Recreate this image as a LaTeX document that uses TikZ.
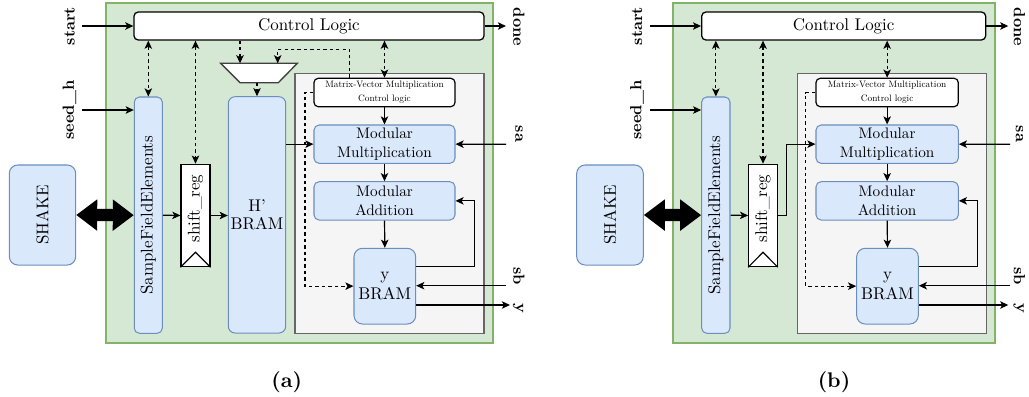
\documentclass[tikz,border=0pt]{standalone}
\usepackage{fontspec}
\setmainfont{lmroman10}[Extension=.otf,UprightFont=*-regular,BoldFont=*-bold,ItalicFont=*-italic,BoldItalicFont=*-bolditalic]
\usetikzlibrary{arrows.meta,fit,calc}
\definecolor{grnfill}{HTML}{D5E8D4}
\definecolor{grnline}{HTML}{82B366}
\definecolor{blufill}{HTML}{DAE8FC}
\definecolor{bluline}{HTML}{6C8EBF}
\definecolor{gryfill}{HTML}{F5F5F5}
\definecolor{gryline}{HTML}{666666}
\begin{document}
\begin{tikzpicture}[x=0.59pt,y=-0.59pt,
  mytip/.tip={Stealth[length=4.8pt,width=4.4pt,inset=1.2pt]},
  bigtip/.tip={Triangle[length=12.4pt,width=17.7pt]},
  conn/.style={line width=0.7pt},
  arr/.style={conn,-mytip},
  dsh/.style={conn,dash pattern=on 2pt off 1.8pt},
  darr/.style={dsh,mytip-mytip},
  dharr/.style={dsh,-mytip},
  thickarr/.style={line width=7.2pt,bigtip-bigtip},
  bx/.style={inner sep=0pt},
  grnbox/.style={bx,draw=grnline,fill=grnfill,line width=1.1pt},
  grybox/.style={bx,draw=gryline,fill=gryfill,line width=0.9pt},
  ctlbox/.style={bx,draw=black,fill=white,line width=0.75pt,rounded corners=2.5pt},
  blubox/.style={bx,draw=bluline,fill=blufill,line width=0.6pt,rounded corners=3pt},
  mvbox/.style={bx,draw=black,fill=white,line width=0.7pt,rounded corners=2.5pt},
  regbox/.style={bx,draw=black,fill=white,line width=0.7pt},
  txt/.style={inner sep=0pt,align=center,font=\fontsize{10}{11}\selectfont},
  modtxt/.style={inner sep=0pt,align=center,font=\fontsize{9}{10.8}\selectfont},
  mvtxt/.style={inner sep=0pt,align=center,font=\fontsize{5.5}{8.2}\selectfont},
  rtxt/.style={rotate=90,inner sep=0pt,font=\fontsize{10}{12}\selectfont},
  muxshape/.style={draw=black!75,fill=white,line width=0.8pt,line join=miter},
  llbl/.style={rotate=90,inner sep=0pt,font=\fontsize{9.5}{12}\selectfont\bfseries},
  rlbl/.style={rotate=-90,inner sep=0pt,font=\fontsize{9.5}{12}\selectfont\bfseries},
  captxt/.style={font=\fontsize{12.5}{14}\selectfont\bfseries}
]
\useasboundingbox (0,0) rectangle (1029,396);

%% ================= (a) =================
\node[grnbox,fit={(105.7,2.7) (493,343)}] (grnA) {};
\node[grybox,fit={(295,73.3) (484,333.3)}] (gryA) {};
\node[ctlbox,fit={(134,12) (484,40)}] (clA) {};
\node[txt] (cltA) at (clA.center) {Control Logic};
\node[blubox,fit={(134.3,97) (162.3,333.3)}] (sfeA) {};
\node[rtxt] (sfetA) at (sfeA.center) {SampleFieldElements};
\node[regbox,fit={(181,164.3) (210,266.7)}] (srA) {};
\node[rtxt] (srtA) at ($(srA.center)+(0,-7)$) {shift\_reg};
\draw[line width=0.7pt] (srA.south west) -- ($(srA.south)+(0,-15)$) -- (srA.south east);
\node[blubox,rounded corners=5pt,fit={(9.3,165) (75.7,265)}] (shA) {};
\node[rtxt] (shtA) at (shA.center) {SHAKE};
\node[blubox,rounded corners=4pt,fit={(228.3,96.7) (285.7,333)}] (hbA) {};
\node[txt] (hbtA) at (hbA.center) {H'\\BRAM};
\coordinate (mtlA) at (220.7,63.3);
\coordinate (mtrA) at (297.3,63.3);
\coordinate (mbrA) at (278.3,82.7);
\coordinate (mblA) at (240,82.7);
\draw[muxshape] (mtlA) -- (mtrA) -- (mbrA) -- (mblA) -- cycle;
\node[mvbox,fit={(314,78.3) (455,106.7)}] (mvA) {};
\node[mvtxt] (mvtxA) at (mvA.center) {Matrix-Vector Multiplication\\Control logic};
\node[blubox,fit={(314,125) (455,163.3)}] (mmA) {};
\node[modtxt] (mmtA) at (mmA.center) {Modular\\Multiplication};
\node[blubox,fit={(314,181.7) (455,220)}] (maA) {};
\node[modtxt] (matA) at (maA.center) {Modular\\Addition};
\node[blubox,rounded corners=5pt,fit={(354,248.3) (415.7,324)}] (ybA) {};
\node[txt,font=\fontsize{10}{11.8}\selectfont] (ybtA) at (ybA.center) {y\\BRAM};

\coordinate (startA) at (82,26);
\coordinate (doneA) at (506,26);
\coordinate (seedA) at (82,110);
\coordinate (saA) at (506,144.2);
\coordinate (sbA) at (506,285.7);
\coordinate (youtA) at (510,305);
\coordinate (mi1A) at (240,63.3);
\coordinate (mi2A) at (277.7,63.3);
\coordinate (moA) at (257,82.7);
\coordinate (mvtA) at (349.7,49.3);
\coordinate (dcA) at (305,200);
\coordinate (fbA) at (474.3,266.7);

\node[llbl] (startLA) at (69.5,26) {start};
\node[llbl] (seedLA) at (69.5,110) {seed\_h};
\node[rlbl] (doneLA) at (519,27) {done};
\node[rlbl] (saLA) at (519,134) {sa};
\node[rlbl] (sbLA) at (519,276) {sb};
\node[rlbl] (yLA) at (518,308) {y};

\draw[arr] (startA) -- (clA.west);
\draw[arr] (clA.east) -- (doneA);
\draw[arr] (seedA) -- (seedA -| sfeA.west);
\draw[darr] (sfeA.north |- clA.south) -- (sfeA.north);
\draw[darr] (srA.north |- clA.south) -- (srA.north);
\draw[dharr] (clA.south -| mi1A) -- (mi1A);
\draw[dharr] (mvA.north -| mvtA) -- (mvtA) -| (mi2A);
\draw[dharr] (moA) -- (moA |- hbA.north);
\draw[darr] (mvA.north |- clA.south) -- (mvA.north);
\draw[thickarr] (shA.east) -- (sfeA.west);
\draw[arr] (sfeA.east) -- (srA.west);
\draw[arr] (srA.east) -- (srA.east -| hbA.west);
\draw[arr] (hbA.east |- mmA.west) -- (mmA.west);
\draw[dharr] (mvA.west) -| (dcA) |- (ybA.west);
\draw[arr] (mvA.south) -- (mmA.north);
\draw[arr] (saA) -- (mmA.east);
\draw[arr] (mmA.south) -- (maA.north);
\draw[arr] (maA.south) -- (ybA.north);
\draw[arr] (fbA -| ybA.east) -- (fbA) |- (maA.east);
\draw[arr] (sbA) -- (sbA -| ybA.east);
\draw[arr] (youtA -| ybA.east) -- (youtA);

\node[captxt] (capA) at (286.7,381.7) {(a)};

%% ================= (b) =================
\node[grnbox,fit={(673.3,2.7) (995,343.3)}] (grnB) {};
\node[grybox,fit={(797.3,73.3) (986.7,333.3)}] (gryB) {};
\node[ctlbox,fit={(701.7,12) (985.7,40)}] (clB) {};
\node[txt] (cltB) at (clB.center) {Control Logic};
\node[blubox,fit={(701.7,97) (730,333.3)}] (sfeB) {};
\node[rtxt] (sfetB) at (sfeB.center) {SampleFieldElements};
\node[regbox,fit={(748.7,164.3) (777.3,266.7)}] (srB) {};
\node[rtxt] (srtB) at ($(srB.center)+(0,-7)$) {shift\_reg};
\draw[line width=0.7pt] (srB.south west) -- ($(srB.south)+(0,-15)$) -- (srB.south east);
\node[blubox,rounded corners=5pt,fit={(576.7,165) (643.3,265)}] (shB) {};
\node[rtxt] (shtB) at (shB.center) {SHAKE};
\node[mvbox,fit={(816,78.3) (958.3,106.7)}] (mvB) {};
\node[mvtxt] (mvtxB) at (mvB.center) {Matrix-Vector Multiplication\\Control logic};
\node[blubox,fit={(816,125) (958.3,163.3)}] (mmB) {};
\node[modtxt] (mmtB) at (mmB.center) {Modular\\Multiplication};
\node[blubox,fit={(816,181.7) (958.3,220)}] (maB) {};
\node[modtxt] (matB) at (maB.center) {Modular\\Addition};
\node[blubox,rounded corners=5pt,fit={(856.7,248.3) (918.3,324)}] (ybB) {};
\node[txt,font=\fontsize{10}{11.8}\selectfont] (ybtB) at (ybB.center) {y\\BRAM};

\coordinate (startB) at (650,26);
\coordinate (doneB) at (1008.3,26);
\coordinate (seedB) at (650,110);
\coordinate (saB) at (1010,144.2);
\coordinate (sbB) at (1010,285.7);
\coordinate (youtB) at (1008.3,305);
\coordinate (dcB) at (805.7,200);
\coordinate (fbB) at (977.3,266.7);
\coordinate (bendB) at (786.7,180);

\node[llbl] (startLB) at (637,26) {start};
\node[llbl] (seedLB) at (637,110) {seed\_h};
\node[rlbl] (doneLB) at (1019.5,27) {done};
\node[rlbl] (saLB) at (1019.5,134) {sa};
\node[rlbl] (sbLB) at (1019.5,276) {sb};
\node[rlbl] (yLB) at (1018.5,308) {y};

\draw[arr] (startB) -- (clB.west);
\draw[arr] (clB.east) -- (doneB);
\draw[arr] (seedB) -- (seedB -| sfeB.west);
\draw[darr] (sfeB.north |- clB.south) -- (sfeB.north);
\draw[darr] (srB.north |- clB.south) -- (srB.north);
\draw[darr] (mvB.north |- clB.south) -- (mvB.north);
\draw[thickarr] (shB.east) -- (sfeB.west);
\draw[arr] (sfeB.east) -- (srB.west);
\draw[arr] (srB.east) -| (bendB) |- (mmB.west);
\draw[dharr] (mvB.west) -| (dcB) |- (ybB.west);
\draw[arr] (mvB.south) -- (mmB.north);
\draw[arr] (saB) -- (mmB.east);
\draw[arr] (mmB.south) -- (maB.north);
\draw[arr] (maB.south) -- (ybB.north);
\draw[arr] (fbB -| ybB.east) -- (fbB) |- (maB.east);
\draw[arr] (sbB) -- (sbB -| ybB.east);
\draw[arr] (youtB -| ybB.east) -- (youtB);

\node[captxt] (capB) at (834,381.7) {(b)};
\end{tikzpicture}
\end{document}
